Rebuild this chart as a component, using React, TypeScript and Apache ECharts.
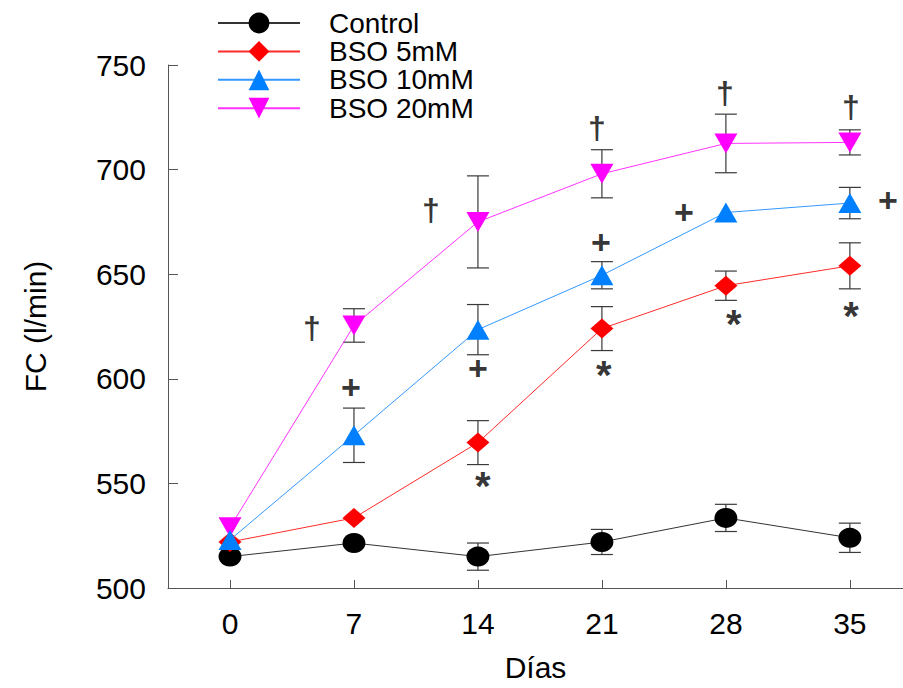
import React, { useEffect, useRef } from "react";
import * as echarts from "echarts";

const days = [0, 7, 14, 21, 28, 35];
const seriesNames = ["Control", "BSO 5mM", "BSO 10mM", "BSO 20mM"];
const controlValues = [515, 521.5, 515, 522, 533.5, 524];
const controlErrors = [0, 0, 6.5, 6, 6.5, 7];
const bso5Values = [522, 533.5, 569.5, 624, 644.5, 654];
const bso5Errors = [0, 0, 10.5, 10.5, 7, 11];
const bso10Values = [523, 573, 623.5, 649.5, 679.5, 684];
const bso10Errors = [0, 13, 12, 6.5, 0, 7.5];
const bso20Values = [529, 625.5, 675, 698, 712.5, 713];
const bso20Errors = [0, 8, 22, 11.5, 14, 6];
const yTicks = [500, 550, 600, 650, 700, 750];
// significance marks: [day position, FC position, glyph]
const marks: [number, number, string][] = [
  [4.63, 624.3, "\u2020"],
  [6.83, 596.1, "+"],
  [11.35, 680.7, "\u2020"],
  [14.0, 605.2, "+"],
  [14.28, 548.8, "*"],
  [20.72, 719.9, "\u2020"],
  [20.94, 665.4, "+"],
  [21.11, 602, "*"],
  [25.63, 679.7, "+"],
  [27.94, 736.6, "\u2020"],
  [28.45, 626.3, "*"],
  [35.06, 729.9, "\u2020"],
  [37.15, 685.5, "+"],
  [35.06, 630, "*"],
];

const FONT = "'Liberation Sans', Arial, sans-serif";

const colors = ["#000000", "#ff0000", "#0080ff", "#ff00ff"];
const lineColors = ["#333333", "#ff2a2a", "#3399ff", "#ff33ff"];
const symbols = ["circle", "diamond", "triangle", "path://M0,0L2,0L1,2Z"];
const allValues = [controlValues, bso5Values, bso10Values, bso20Values];
const allErrors = [controlErrors, bso5Errors, bso10Errors, bso20Errors];
const zOrder = [2, 3, 5, 4];
const markSizes: Record<string, number> = { "\u2020": 32, "+": 34, "*": 40 };

export default function App() {
  const ref = useRef<HTMLDivElement>(null);
  useEffect(() => {
    if (!ref.current) return;
    const chart = echarts.init(ref.current, null, { renderer: "svg" });

    const lineSeries = seriesNames.map((name, i) => ({
      name,
      type: "line",
      data: days.map((d, j) => [d, allValues[i][j]]),
      symbol: symbols[i],
      symbolSize: [23, 20],
      z: zOrder[i] + 2,
      color: colors[i],
      itemStyle: { color: colors[i] },
      lineStyle: { color: lineColors[i], width: 1 },
      emphasis: { disabled: true },
    }));

    const errorSeries = seriesNames.map((name, i) => ({
      name: name + " err",
      type: "custom",
      z: 1,
      silent: true,
      data: days.map((d, j) => [d, allValues[i][j] - allErrors[i][j], allValues[i][j] + allErrors[i][j]]),
      renderItem: (params: any, api: any) => {
        const x = api.value(0);
        if (api.value(2) - api.value(1) <= 0) return null;
        const lo = api.coord([x, api.value(1)]);
        const hi = api.coord([x, api.value(2)]);
        const hw = 11;
        const style = { stroke: "#3a3a3a", lineWidth: 1.2 };
        return {
          type: "group",
          children: [
            { type: "line", shape: { x1: lo[0], y1: lo[1], x2: hi[0], y2: hi[1] }, style },
            { type: "line", shape: { x1: lo[0] - hw, y1: lo[1], x2: lo[0] + hw, y2: lo[1] }, style },
            { type: "line", shape: { x1: hi[0] - hw, y1: hi[1], x2: hi[0] + hw, y2: hi[1] }, style },
          ],
        };
      },
    }));

    const markSeries = {
      name: "marks",
      type: "scatter",
      silent: true,
      z: 10,
      symbol: "circle",
      symbolSize: 1,
      itemStyle: { color: "rgba(0,0,0,0)" },
      data: marks.map((m) => ({
        name: m[2],
        value: [m[0], m[1]],
        label: { fontSize: markSizes[m[2]] },
      })),
      label: {
        show: true,
        position: "inside",
        formatter: "{b}",
        color: "#000",
        fontFamily: FONT,
        fontSize: 30,
        fontWeight: "bold",
      },
    };

    chart.setOption({
      animation: false,
      backgroundColor: "#ffffff",
      grid: { left: 168, right: 0, top: 65, bottom: 100, containLabel: false, outerBoundsMode: "none" },
      legend: {
        data: seriesNames,
        orient: "vertical",
        left: 217,
        top: 9,
        itemWidth: 82,
        itemHeight: 26,
        itemGap: 0.4,
        padding: 0,
        selectedMode: false,
        textStyle: {
          fontFamily: FONT,
          fontSize: 28,
          color: "#000",
          lineHeight: 28,
          padding: [0, 0, 0, 24],
        },
      },
      xAxis: {
        type: "value",
        min: -3.5,
        max: 38,
        name: "Días",
        nameLocation: "middle",
        nameGap: 64,
        nameTextStyle: { fontFamily: FONT, fontSize: 30, color: "#000" },
        axisLine: { show: true, onZero: false, lineStyle: { color: "#555", width: 1 } },
        axisTick: { show: true, inside: true, length: 8, customValues: days, lineStyle: { color: "#555" } },
        axisLabel: { customValues: days, margin: 20, fontFamily: FONT, fontSize: 30, color: "#000" },
        splitLine: { show: false },
      },
      yAxis: {
        type: "value",
        min: 500,
        max: 750,
        interval: 50,
        name: "FC (l/min)",
        nameLocation: "middle",
        nameGap: 118,
        nameTextStyle: { fontFamily: FONT, fontSize: 30, color: "#000" },
        axisLine: { show: true, onZero: false, lineStyle: { color: "#555", width: 1 } },
        axisTick: { show: true, inside: true, length: 10, customValues: yTicks, lineStyle: { color: "#555" } },
        axisLabel: { customValues: yTicks, margin: 22, fontFamily: FONT, fontSize: 30, color: "#000" },
        splitLine: { show: false },
      },
      series: [...errorSeries, ...lineSeries, markSeries],
    });
    return () => chart.dispose();
  }, []);
  return (
    <div
      ref={ref}
      style={{ position: "absolute", left: 0, top: 0, width: 903, height: 688, background: "#fff" }}
    />
  );
}
